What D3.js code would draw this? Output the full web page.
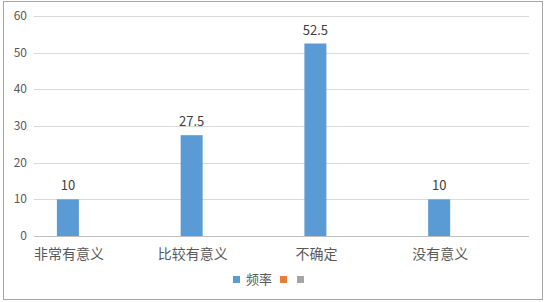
<!DOCTYPE html>
<html>
<head>
<meta charset="utf-8">
<script src="https://cdn.jsdelivr.net/npm/d3@7"></script>
<style>
  body { margin: 0; background: #fff; }
  text { font-family: "Noto Sans CJK SC", "Noto Sans", sans-serif; }
</style>
</head>
<body>
<div id="chart"></div>
<script>
// chart data
const categories = ["非常有意义", "比较有意义", "不确定", "没有意义"];
const seriesNames = ["频率", "", ""];
const seriesColors = ["#5B9BD5", "#ED7D31", "#A5A5A5"];
const freqValues = [10, 27.5, 52.5, 10];
const yTicks = [0, 10, 20, 30, 40, 50, 60];

const width = 545;
const height = 302;

const svg = d3.select("#chart")
    .append("svg")
    .attr("width", width)
    .attr("height", height);

// outer frame
svg.append("rect")
    .attr("x", 3.5).attr("y", 1.5)
    .attr("width", 539).attr("height", 298)
    .attr("fill", "#fff")
    .attr("stroke", "#A6A6A6")
    .attr("stroke-width", 1);

const plotLeft = 34, plotRight = 529, plotTop = 16, plotBottom = 236;

const y = d3.scaleLinear().domain([0, 60]).range([plotBottom, plotTop]);

// category bands, then the three series inside each band
const x0 = d3.scaleBand()
    .domain(categories)
    .range([plotLeft, plotRight])
    .paddingInner(0.37)
    .paddingOuter(0.185);

const x1 = d3.scaleBand()
    .domain(d3.range(seriesNames.length))
    .range([0, x0.bandwidth()])
    .paddingInner(0.214);

// gridlines
svg.append("g")
    .selectAll("line")
    .data(yTicks)
    .enter().append("line")
    .attr("x1", plotLeft).attr("x2", plotRight)
    .attr("y1", d => Math.round(y(d)) + 0.5)
    .attr("y2", d => Math.round(y(d)) + 0.5)
    .attr("stroke", d => d === 0 ? "#BFBFBF" : "#D9D9D9")
    .attr("stroke-width", 1);

// y tick labels
svg.append("g")
    .selectAll("text")
    .data(yTicks)
    .enter().append("text")
    .attr("x", 27)
    .attr("y", d => y(d) + 4)
    .attr("text-anchor", "end")
    .attr("font-size", 12)
    .attr("fill", "#595959")
    .text(d => d);

// bars (only 频率 has values)
const bars = svg.append("g")
    .selectAll("rect")
    .data(categories.map((c, i) => ({ cat: c, v: freqValues[i] })))
    .enter().append("rect")
    .attr("x", d => x0(d.cat) + x1(0))
    .attr("y", d => y(d.v))
    .attr("width", x1.bandwidth())
    .attr("height", d => plotBottom - y(d.v))
    .attr("fill", seriesColors[0]);

// data labels
svg.append("g")
    .selectAll("text")
    .data(categories.map((c, i) => ({ cat: c, v: freqValues[i] })))
    .enter().append("text")
    .attr("x", d => x0(d.cat) + x1(0) + x1.bandwidth() / 2)
    .attr("y", d => y(d.v) - 9)
    .attr("text-anchor", "middle")
    .attr("font-size", 13)
    .attr("fill", "#404040")
    .text(d => d.v);

// category labels, centred under the first series bar
svg.append("g")
    .selectAll("text")
    .data(categories)
    .enter().append("text")
    .attr("x", d => x0(d) + x1(0) + x1.bandwidth() / 2 + 1)
    .attr("y", 259)
    .attr("text-anchor", "middle")
    .attr("font-size", 14)
    .attr("fill", "#595959")
    .text(d => d);

// legend
const legendX = [233, 280, 297];
const legend = svg.append("g");
seriesNames.forEach((name, i) => {
    legend.append("rect")
        .attr("x", legendX[i]).attr("y", 276)
        .attr("width", 7).attr("height", 7)
        .attr("fill", seriesColors[i]);
    if (name) {
        legend.append("text")
            .attr("x", legendX[i] + 13)
            .attr("y", 284)
            .attr("font-size", 13)
            .attr("fill", "#595959")
            .text(name);
    }
});
</script>
</body>
</html>
